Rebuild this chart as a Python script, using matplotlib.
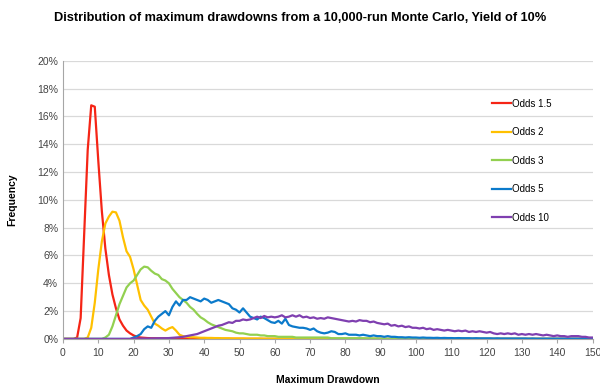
import numpy as np
import matplotlib
matplotlib.use('Agg')
import matplotlib.pyplot as plt
from matplotlib.ticker import FuncFormatter

plt.rcParams['font.family'] = ['Liberation Sans', 'DejaVu Sans']

# drawdown values 0..150, frequency in %
drawdown = np.arange(0, 151)

odds_1_5 = [0, 0, 0, 0, 0.1, 1.5, 7.5, 13.6, 16.8, 16.7, 12.8, 9.2, 6.5, 4.6, 3.2,
            2.2, 1.4, 0.95, 0.6, 0.4, 0.25, 0.15, 0.1, 0.08, 0.06, 0.05, 0.05, 0.04,
            0.04, 0.04, 0.03, 0.03, 0.03, 0.02, 0.02, 0.02, 0.02, 0.01, 0.01, 0.01,
            0.01] + [0.0] * 110

odds_2 = [0, 0, 0, 0, 0, 0, 0, 0.1, 0.8, 2.6, 5.0, 7.0, 8.3, 8.8, 9.15, 9.1, 8.5,
          7.3, 6.3, 5.9, 5.0, 3.9, 2.8, 2.4, 2.1, 1.6, 1.1, 0.95, 0.75, 0.6, 0.75,
          0.85, 0.6, 0.3, 0.2, 0.15, 0.12, 0.12, 0.1, 0.08, 0.08, 0.07, 0.07, 0.06,
          0.06, 0.05, 0.05, 0.05, 0.04, 0.04, 0.04, 0.04, 0.03, 0.03, 0.03, 0.03,
          0.03, 0.02, 0.02, 0.02, 0.02, 0.02, 0.02, 0.01, 0.01, 0.01] + [0.0] * 85

odds_3 = [0, 0, 0, 0, 0, 0, 0, 0, 0, 0, 0, 0, 0.1, 0.3, 0.9, 1.7, 2.5, 3.1, 3.7,
          4.0, 4.2, 4.6, 5.0, 5.2, 5.15, 4.9, 4.7, 4.6, 4.3, 4.2, 4.0, 3.6, 3.3,
          3.0, 2.8, 2.6, 2.3, 2.1, 1.8, 1.55, 1.4, 1.2, 1.05, 0.95, 0.85, 0.75,
          0.65, 0.6, 0.55, 0.45, 0.4, 0.4, 0.35, 0.3, 0.3, 0.3, 0.25, 0.25, 0.2,
          0.2, 0.2, 0.15, 0.15, 0.15, 0.15, 0.15, 0.1, 0.1, 0.1, 0.1, 0.1, 0.1,
          0.1, 0.1, 0.1, 0.1, 0.05, 0.05, 0.05, 0.05, 0.05, 0.05, 0.05, 0.05,
          0.05, 0.05, 0.04, 0.04, 0.03, 0.03, 0.02] + [0.0] * 60

odds_5 = [0] * 20 + [
    0.1, 0.2, 0.35, 0.7, 0.9, 0.8, 1.3, 1.6, 1.8, 2.0,
    1.7, 2.3, 2.7, 2.4, 2.8, 2.8, 3.0, 2.9, 2.8, 2.7,
    2.9, 2.8, 2.6, 2.7, 2.8, 2.7, 2.6, 2.5, 2.2, 2.1,
    1.9, 2.2, 1.9, 1.6, 1.5, 1.4, 1.6, 1.5, 1.35, 1.2,
    1.15, 1.3, 1.1, 1.45, 1.0, 0.9, 0.85, 0.8, 0.8, 0.75,
    0.65, 0.75, 0.55, 0.45, 0.4, 0.45, 0.55, 0.5, 0.35, 0.35,
    0.4, 0.3, 0.3, 0.3, 0.25, 0.3, 0.25, 0.2, 0.25, 0.2,
    0.2, 0.15, 0.2, 0.15, 0.15, 0.12, 0.12, 0.1, 0.12, 0.1,
    0.1, 0.08, 0.1, 0.08, 0.08, 0.07, 0.08, 0.06, 0.07, 0.06,
    0.06, 0.05, 0.06, 0.05, 0.05, 0.05, 0.04, 0.05, 0.04, 0.04,
    0.04, 0.04, 0.03, 0.04, 0.03, 0.03, 0.03, 0.03, 0.03, 0.03,
    0.03, 0.03, 0.02, 0.03, 0.02, 0.02, 0.02, 0.02, 0.02, 0.02,
    0.02, 0.02, 0.02, 0.02, 0.02, 0.02, 0.02, 0.02, 0.02, 0.02,
    0.02]

odds_10 = [0] * 20 + [
    0.02, 0.02, 0.03, 0.03, 0.03, 0.04, 0.04, 0.05, 0.05, 0.05,
    0.06, 0.08, 0.1, 0.12, 0.15, 0.2, 0.25, 0.3, 0.35, 0.45,
    0.55, 0.65, 0.75, 0.85, 0.95, 1.0, 1.1, 1.2, 1.15, 1.3,
    1.3, 1.4, 1.35, 1.4, 1.5, 1.6, 1.5, 1.65, 1.55, 1.6,
    1.55, 1.6, 1.7, 1.55, 1.6, 1.7, 1.6, 1.7, 1.55, 1.6,
    1.5, 1.55, 1.45, 1.5, 1.45, 1.55, 1.5, 1.45, 1.4, 1.35,
    1.3, 1.25, 1.3, 1.25, 1.35, 1.3, 1.3, 1.2, 1.25, 1.15,
    1.1, 1.05, 1.1, 0.95, 1.0, 0.9, 0.95, 0.85, 0.9, 0.8,
    0.8, 0.75, 0.8, 0.7, 0.75, 0.65, 0.7, 0.65, 0.6, 0.65,
    0.6, 0.55, 0.6, 0.55, 0.6, 0.5, 0.55, 0.5, 0.55, 0.5,
    0.45, 0.5, 0.4, 0.35, 0.4, 0.35, 0.4, 0.35, 0.4, 0.3,
    0.35, 0.3, 0.35, 0.3, 0.35, 0.3, 0.25, 0.3, 0.25, 0.2,
    0.25, 0.2, 0.2, 0.15, 0.2, 0.2, 0.2, 0.15, 0.15, 0.1,
    0.1]

labels = ['Odds 1.5', 'Odds 2', 'Odds 3', 'Odds 5', 'Odds 10']
colors = ['#F52516', '#FFC000', '#92D050', '#0B7ACB', '#7F3FB0']
series = [odds_1_5, odds_2, odds_3, odds_5, odds_10]

fig = plt.figure(figsize=(6, 3.9), dpi=100)
ax = fig.add_axes([0.105, 0.131, 0.8825, 0.713])

for vals, lab, col in zip(series, labels, colors):
    ax.plot(drawdown, vals, color=col, lw=1.6, label=lab, solid_joinstyle='round')

ax.set_xlim(0, 150)
ax.set_ylim(0, 20)
ax.set_xticks(np.arange(0, 151, 10))
ax.set_yticks(np.arange(0, 21, 2))
ax.yaxis.set_major_formatter(FuncFormatter(lambda v, p: '%d%%' % v))
ax.grid(axis='y', color='#D9D9D9', lw=0.9)
ax.set_axisbelow(True)
for s in ['top', 'right']:
    ax.spines[s].set_visible(False)
for s in ['left', 'bottom']:
    ax.spines[s].set_color('#A6A6A6')
ax.tick_params(axis='both', labelsize=7.5, colors='#A6A6A6', labelcolor='#444444', length=3)
ax.tick_params(axis='y', length=0)

ax.set_xlabel('Maximum Drawdown', fontsize=7.5, fontweight='bold', labelpad=12)
ax.set_ylabel('Frequency', fontsize=7.5, fontweight='bold', labelpad=14)
fig.text(0.5, 0.955, 'Distribution of maximum drawdowns from a 10,000-run Monte Carlo, Yield of 10%',
         ha='center', va='center', fontsize=9.2, fontweight='bold')

ax.legend(loc='upper left', bbox_to_anchor=(0.793, 0.895), frameon=False, fontsize=7,
          handlelength=2.0, handletextpad=0.1, labelspacing=1.9)

fig.savefig('out.png', dpi=100)
